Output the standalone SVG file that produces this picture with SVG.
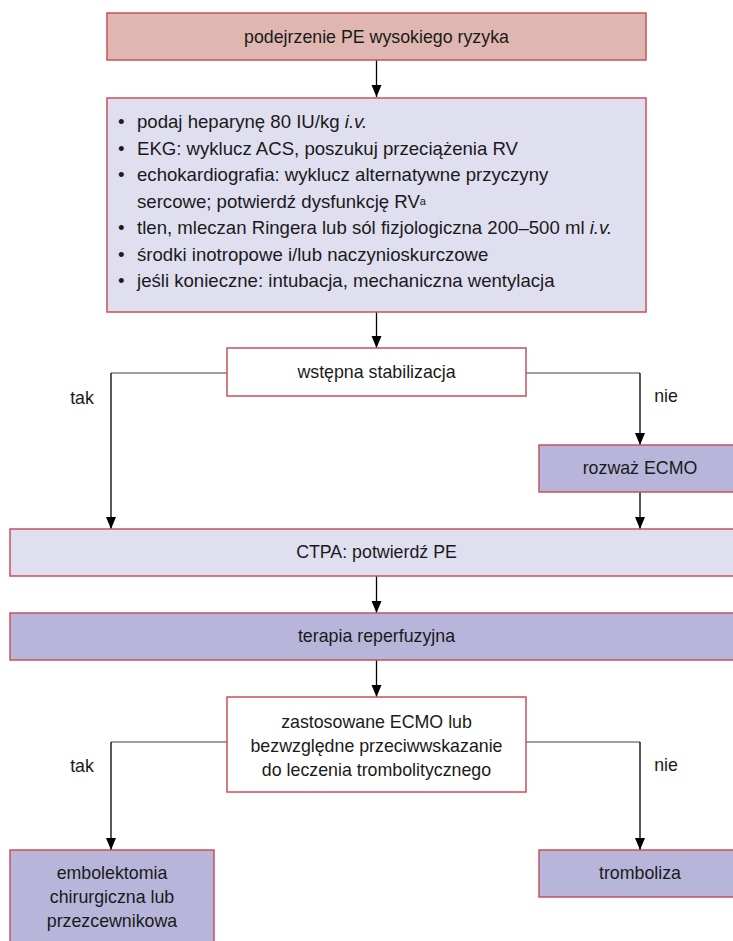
<svg xmlns="http://www.w3.org/2000/svg" width="733" height="941" viewBox="0 0 733 941">
<defs>
<marker id="ah" markerUnits="userSpaceOnUse" markerWidth="14" markerHeight="12" refX="12" refY="6" orient="auto">
<path d="M0,1 L12,6 L0,11 z" fill="#000"/>
</marker>
<style>
.box{stroke:#c9505c;stroke-width:1.5}
.pink{fill:#dfb7b0}
.light{fill:#e0dff0}
.mid{fill:#b8b5db}
.white{fill:#ffffff}
text{font-family:"Liberation Sans",Arial,sans-serif;font-size:17.8px;fill:#1a1a1a}
.b{font-size:18.6px}
.c{text-anchor:middle}
.v{stroke:#000;stroke-width:1.3;fill:none}
.h{stroke:#808080;stroke-width:1.6;fill:none}
.it{font-style:italic}
</style>
</defs>
<rect width="733" height="941" fill="#ffffff"/>

<g id="connectors">
<line class="v" x1="376.5" y1="60" x2="376.5" y2="97" marker-end="url(#ah)"/>
<line class="v" x1="376.5" y1="312" x2="376.5" y2="348" marker-end="url(#ah)"/>
<polyline class="h" points="227,373 111,373"/>
<line class="v" x1="111" y1="373" x2="111" y2="529" marker-end="url(#ah)"/>
<polyline class="h" points="526,373 640,373"/>
<line class="v" x1="640" y1="373" x2="640" y2="445" marker-end="url(#ah)"/>
<line class="v" x1="640" y1="492" x2="640" y2="529" marker-end="url(#ah)"/>
<line class="v" x1="376.5" y1="576" x2="376.5" y2="613" marker-end="url(#ah)"/>
<line class="v" x1="376.5" y1="660" x2="376.5" y2="697" marker-end="url(#ah)"/>
<polyline class="h" points="227,742 111,742"/>
<line class="v" x1="111" y1="742" x2="111" y2="850" marker-end="url(#ah)"/>
<polyline class="h" points="526,742 640,742"/>
<line class="v" x1="640" y1="742" x2="640" y2="850" marker-end="url(#ah)"/>
<text class="c" x="82" y="404">tak</text>
<text class="c" x="666" y="402">nie</text>
<text class="c" x="82" y="772">tak</text>
<text class="c" x="666" y="771">nie</text>
</g>

<g id="n1">
<rect class="box pink" x="107" y="13" width="539" height="47"/>
<text class="c" x="376.5" y="43">podejrzenie PE wysokiego ryzyka</text>
</g>

<g id="n2">
<rect class="box light" x="107" y="98" width="539" height="214"/>
<text class="b" x="118" y="128">•</text><text class="b" x="137" y="128">podaj heparynę 80 IU/kg <tspan class="it">i.v.</tspan></text>
<text class="b" x="118" y="154.5">•</text><text class="b" x="137" y="154.5">EKG: wyklucz ACS, poszukuj przeciążenia RV</text>
<text class="b" x="118" y="181">•</text><text class="b" x="137" y="181">echokardiografia: wyklucz alternatywne przyczyny</text>
<text class="b" x="137" y="207.5">sercowe; potwierdź dysfunkcję RV<tspan font-size="11" dy="-3">a</tspan></text>
<text class="b" x="118" y="234">•</text><text class="b" x="137" y="234">tlen, mleczan Ringera lub sól fizjologiczna 200–500 ml <tspan class="it">i.v.</tspan></text>
<text class="b" x="118" y="260.5">•</text><text class="b" x="137" y="260.5">środki inotropowe i/lub naczynioskurczowe</text>
<text class="b" x="118" y="287">•</text><text class="b" x="137" y="287">jeśli konieczne: intubacja, mechaniczna wentylacja</text>
</g>

<g id="n3">
<rect class="box white" x="227" y="348" width="299" height="48"/>
<text class="c" x="376.5" y="378">wstępna stabilizacja</text>
</g>

<g id="n4">
<rect class="box mid" x="539" y="445" width="206" height="47"/>
<text class="c" x="640" y="474">rozważ ECMO</text>
</g>

<g id="n5">
<rect class="box light" x="10" y="529" width="733" height="47"/>
<text class="c" x="376.5" y="558">CTPA: potwierdź PE</text>
</g>

<g id="n6">
<rect class="box mid" x="10" y="613" width="733" height="47"/>
<text class="c" x="376.5" y="642">terapia reperfuzyjna</text>
</g>

<g id="n7">
<rect class="box white" x="227" y="697" width="299" height="95"/>
<text class="c" x="376.5" y="727.5">zastosowane ECMO lub</text>
<text class="c" x="376.5" y="751.5">bezwzględne przeciwwskazanie</text>
<text class="c" x="376.5" y="775.5">do leczenia trombolitycznego</text>
</g>

<g id="n8">
<rect class="box mid" x="10" y="850" width="204" height="100"/>
<text class="c" x="112" y="879">embolektomia</text>
<text class="c" x="112" y="903">chirurgiczna lub</text>
<text class="c" x="112" y="927">przezcewnikowa</text>
</g>

<g id="n9">
<rect class="box mid" x="539" y="850" width="206" height="47"/>
<text class="c" x="640" y="879">tromboliza</text>
</g>
</svg>
